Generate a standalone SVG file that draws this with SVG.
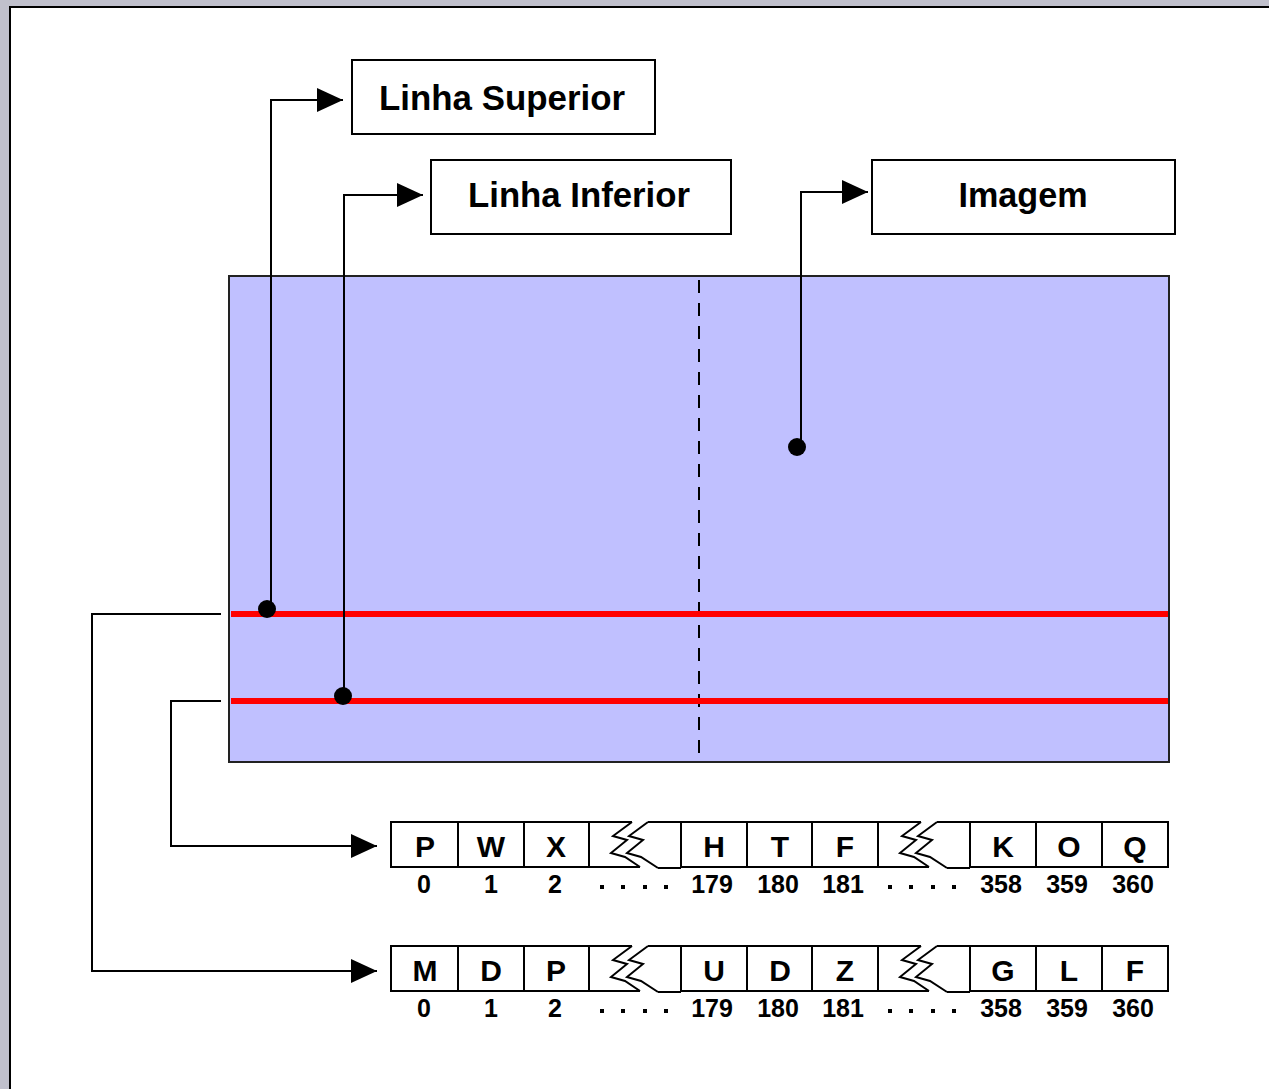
<svg xmlns="http://www.w3.org/2000/svg" width="1269" height="1089" viewBox="0 0 1269 1089">
  <style>
    .lbl { font-family: "Liberation Sans", Arial, sans-serif; font-weight: bold; fill: #000; text-anchor: middle; }
    .title { font-size: 35px; }
    .cell { font-size: 30px; }
    .idx { font-size: 25px; }
    .box { fill: #fff; stroke: #000; stroke-width: 2; }
    .wire { fill: none; stroke: #000; stroke-width: 2; }
    .dot { fill: #000; }
    .red { stroke: #ff0000; stroke-width: 6; }
  </style>
  <defs>
    <marker id="arrow" viewBox="0 0 26 24" refX="26" refY="12" markerWidth="26" markerHeight="24" markerUnits="userSpaceOnUse" orient="auto">
      <path d="M0,0 L26,12 L0,24 Z" fill="#000"/>
    </marker>
    <!-- broken cell: top/bottom edges interrupted by two lightning zigzags -->
    <g id="breakcell" fill="none" stroke="#000" stroke-width="2">
      <path d="M0,0 H43 M59,0 H92 M0,45 H51 M69,46 H92"/>
      <polyline points="43,0 24,14 38,18 22,31 36,35 51,45"/>
      <polyline points="59,0 40,14 54,18 38,31 52,35 69,46"/>
    </g>
    <g id="dots" fill="#000">
      <rect x="-2" y="-2" width="4" height="4"/>
      <rect x="19" y="-2" width="4" height="4"/>
      <rect x="41" y="-2" width="4" height="4"/>
      <rect x="62" y="-2" width="4" height="4"/>
    </g>
  </defs>

  <!-- window frame -->
  <rect x="0" y="0" width="1269" height="1089" fill="#c0c0cc"/>
  <rect x="9" y="6" width="1260" height="1083" fill="#000"/>
  <rect x="11" y="8" width="1258" height="1081" fill="#fff"/>

  <!-- image area -->
  <g id="imagem-area">
    <rect x="229" y="276" width="940" height="486" fill="#c0c0ff" stroke="#222" stroke-width="2"/>
    <line x1="699" y1="280" x2="699" y2="760" stroke="#000" stroke-width="2" stroke-dasharray="13 10"/>
    <line class="red" x1="231" y1="614" x2="1168" y2="614"/>
    <line class="red" x1="231" y1="701" x2="1168" y2="701"/>
  </g>

  <!-- label boxes -->
  <g id="linha-superior">
    <rect class="box" x="352" y="60" width="303" height="74"/>
    <text class="lbl title" x="502" y="110" textLength="246" lengthAdjust="spacingAndGlyphs">Linha Superior</text>
  </g>
  <g id="linha-inferior">
    <rect class="box" x="431" y="160" width="300" height="74"/>
    <text class="lbl title" x="579" y="207" textLength="222" lengthAdjust="spacingAndGlyphs">Linha Inferior</text>
  </g>
  <g id="imagem">
    <rect class="box" x="872" y="160" width="303" height="74"/>
    <text class="lbl title" x="1023" y="207" textLength="129" lengthAdjust="spacingAndGlyphs">Imagem</text>
  </g>

  <!-- row buffer for the upper line -->
  <g id="buffer-superior">
    <g class="wire">
      <rect x="391" y="822" width="198" height="45"/>
      <line x1="458" y1="822" x2="458" y2="867"/>
      <line x1="524" y1="822" x2="524" y2="867"/>
      <rect x="681" y="822" width="197" height="45"/>
      <line x1="747" y1="822" x2="747" y2="867"/>
      <line x1="812" y1="822" x2="812" y2="867"/>
      <rect x="970" y="822" width="198" height="45"/>
      <line x1="1036" y1="822" x2="1036" y2="867"/>
      <line x1="1102" y1="822" x2="1102" y2="867"/>
    </g>
    <use href="#breakcell" x="589" y="822"/>
    <use href="#breakcell" x="878" y="822"/>
    <text class="lbl cell" x="425" y="857">P</text>
    <text class="lbl cell" x="491" y="857">W</text>
    <text class="lbl cell" x="556" y="857">X</text>
    <text class="lbl cell" x="714" y="857">H</text>
    <text class="lbl cell" x="780" y="857">T</text>
    <text class="lbl cell" x="845" y="857">F</text>
    <text class="lbl cell" x="1003" y="857">K</text>
    <text class="lbl cell" x="1069" y="857">O</text>
    <text class="lbl cell" x="1135" y="857">Q</text>
    <text class="lbl idx" x="424" y="893">0</text>
    <text class="lbl idx" x="491" y="893">1</text>
    <text class="lbl idx" x="555" y="893">2</text>
    <use href="#dots" x="602" y="887"/>
    <text class="lbl idx" x="712" y="893">179</text>
    <text class="lbl idx" x="778" y="893">180</text>
    <text class="lbl idx" x="843" y="893">181</text>
    <use href="#dots" x="890" y="887"/>
    <text class="lbl idx" x="1001" y="893">358</text>
    <text class="lbl idx" x="1067" y="893">359</text>
    <text class="lbl idx" x="1133" y="893">360</text>
  </g>

  <!-- row buffer for the lower line -->
  <g id="buffer-inferior">
    <g class="wire">
      <rect x="391" y="946" width="198" height="45"/>
      <line x1="458" y1="946" x2="458" y2="991"/>
      <line x1="524" y1="946" x2="524" y2="991"/>
      <rect x="681" y="946" width="197" height="45"/>
      <line x1="747" y1="946" x2="747" y2="991"/>
      <line x1="812" y1="946" x2="812" y2="991"/>
      <rect x="970" y="946" width="198" height="45"/>
      <line x1="1036" y1="946" x2="1036" y2="991"/>
      <line x1="1102" y1="946" x2="1102" y2="991"/>
    </g>
    <use href="#breakcell" x="589" y="946"/>
    <use href="#breakcell" x="878" y="946"/>
    <text class="lbl cell" x="425" y="981">M</text>
    <text class="lbl cell" x="491" y="981">D</text>
    <text class="lbl cell" x="556" y="981">P</text>
    <text class="lbl cell" x="714" y="981">U</text>
    <text class="lbl cell" x="780" y="981">D</text>
    <text class="lbl cell" x="845" y="981">Z</text>
    <text class="lbl cell" x="1003" y="981">G</text>
    <text class="lbl cell" x="1069" y="981">L</text>
    <text class="lbl cell" x="1135" y="981">F</text>
    <text class="lbl idx" x="424" y="1017">0</text>
    <text class="lbl idx" x="491" y="1017">1</text>
    <text class="lbl idx" x="555" y="1017">2</text>
    <use href="#dots" x="602" y="1011"/>
    <text class="lbl idx" x="712" y="1017">179</text>
    <text class="lbl idx" x="778" y="1017">180</text>
    <text class="lbl idx" x="843" y="1017">181</text>
    <use href="#dots" x="890" y="1011"/>
    <text class="lbl idx" x="1001" y="1017">358</text>
    <text class="lbl idx" x="1067" y="1017">359</text>
    <text class="lbl idx" x="1133" y="1017">360</text>
  </g>

  <!-- connectors -->
  <g id="connectors">
    <path class="wire" d="M271,609 V100 H343" marker-end="url(#arrow)"/>
    <path class="wire" d="M344,696 V195 H423" marker-end="url(#arrow)"/>
    <path class="wire" d="M801,447 V192 H868" marker-end="url(#arrow)"/>
    <path class="wire" d="M221,614 H92 V971 H377" marker-end="url(#arrow)"/>
    <path class="wire" d="M221,701 H171 V846 H377" marker-end="url(#arrow)"/>
    <circle class="dot" cx="267" cy="609" r="9"/>
    <circle class="dot" cx="343" cy="696" r="9"/>
    <circle class="dot" cx="797" cy="447" r="9"/>
  </g>
</svg>
